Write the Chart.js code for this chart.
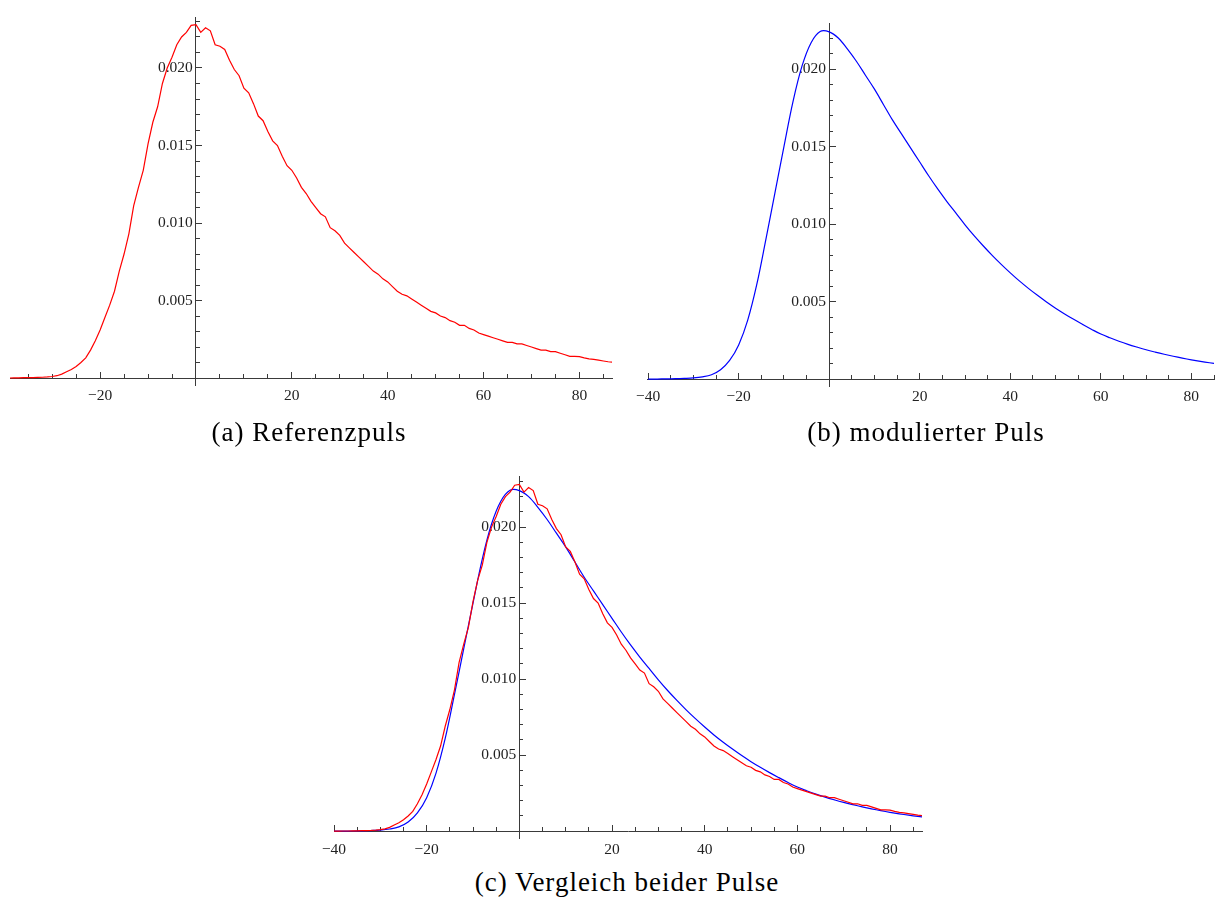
<!DOCTYPE html>
<html lang="de">
<head>
<meta charset="utf-8">
<title>Referenzpuls und modulierter Puls</title>
<script src="https://cdn.jsdelivr.net/npm/chart.js@4.4.1/dist/chart.umd.min.js"></script>
<style>
  body { margin: 0; background: #fff; width: 1215px; height: 897px; position: relative; overflow: hidden; }
  canvas { position: absolute; }
  .caption {
    position: absolute; width: 500px; text-align: center; white-space: nowrap;
    font-family: "Liberation Serif", "Times New Roman", Times, "DejaVu Serif", serif;
    font-size: 27px; line-height: 27px; letter-spacing: 1px; color: #000;
  }
</style>
</head>
<body>
<canvas id="plotA" width="620" height="420" style="left:0;top:0"></canvas>
<canvas id="plotB" width="595" height="420" style="left:620px;top:0"></canvas>
<canvas id="plotC" width="640" height="420" style="left:300px;top:440px"></canvas>
<div class="caption" style="left:59px;top:419px">(a) Referenzpuls</div>
<div class="caption" style="left:676px;top:419px">(b) modulierter Puls</div>
<div class="caption" style="left:377px;top:869px">(c) Vergleich beider Pulse</div>

<script>
// ---------- Messdaten ----------
// Referenzpuls (gemessen), Abtastung alle 1 Zeiteinheit
const zeitRef = [
  -40, -39, -38, -37, -36, -35, -34, -33, -32, -31, -30, -29, -28, -27, -26, -25,
  -24, -23, -22, -21, -20, -19, -18, -17, -16, -15, -14, -13, -12, -11, -10, -9,
  -8, -7, -6, -5, -4, -3, -2, -1, 0, 1, 2, 3, 4, 5, 6, 7,
  8, 9, 10, 11, 12, 13, 14, 15, 16, 17, 18, 19, 20, 21, 22, 23,
  24, 25, 26, 27, 28, 29, 30, 31, 32, 33, 34, 35, 36, 37, 38, 39,
  40, 41, 42, 43, 44, 45, 46, 47, 48, 49, 50, 51, 52, 53, 54, 55,
  56, 57, 58, 59, 60, 61, 62, 63, 64, 65, 66, 67, 68, 69, 70, 71,
  72, 73, 74, 75, 76, 77, 78, 79, 80, 81, 82, 83, 84, 85, 86, 87
];
const referenzpuls = [
  0, 0, 0.00001, 0.00001, 0.00002, 0.00002, 0.00003, 0.00004, 0.00005, 0.00007, 0.0001, 0.00015, 0.00025, 0.0004, 0.00055, 0.00075,
  0.001, 0.0013, 0.0018, 0.0024, 0.0031, 0.0039, 0.0047, 0.0056, 0.0069, 0.0080, 0.0093, 0.0111, 0.0123, 0.0134, 0.0151, 0.0165,
  0.0175, 0.0190, 0.0200, 0.0207, 0.0215, 0.0220, 0.0223, 0.02275, 0.0228, 0.0223, 0.0226, 0.0224, 0.0215, 0.0214, 0.0212, 0.0205,
  0.0199, 0.0195, 0.0187, 0.0184, 0.0177, 0.0169, 0.0166, 0.0159, 0.0153, 0.0150, 0.0143, 0.0137, 0.0134, 0.0129, 0.0123, 0.0119,
  0.0114, 0.0110, 0.0106, 0.0104, 0.0097, 0.0095, 0.0092, 0.0087, 0.0084, 0.0081, 0.0078, 0.0075, 0.0072, 0.0069, 0.0067, 0.0064,
  0.0062, 0.0059, 0.0056, 0.0054, 0.0053, 0.0051, 0.0049, 0.0047, 0.0045, 0.0043, 0.0042, 0.0040, 0.0039, 0.0037, 0.0036, 0.0034,
  0.0034, 0.0032, 0.0031, 0.0029, 0.0028, 0.0027, 0.0026, 0.0025, 0.0024, 0.0023, 0.0023, 0.0022, 0.0022, 0.0021, 0.0020, 0.0019,
  0.0018, 0.0018, 0.0017, 0.0017, 0.0016, 0.0015, 0.0014, 0.0014, 0.00138, 0.0013, 0.00123, 0.0012, 0.00115, 0.0011, 0.00105, 0.00102
];

// modulierter Puls (berechnet), Abtastung alle 2 Zeiteinheiten
const zeitMod = [
  -40, -38, -36, -34, -32, -30, -28, -26, -24, -22, -20, -18, -16, -14, -12, -10,
  -8, -6, -4, -2, 0, 2, 4, 6, 8, 10, 12, 14, 16, 18, 20, 22,
  24, 26, 28, 30, 32, 34, 36, 38, 40, 42, 44, 46, 48, 50, 52, 54,
  56, 58, 60, 62, 64, 66, 68, 70, 72, 74, 76, 78, 80, 82, 84, 86, 88
];
const modPuls = [
  0, 0, 0.00001, 0.00002, 0.00004, 0.00007, 0.00014, 0.00028, 0.0006, 0.0012, 0.0022, 0.0038, 0.0061, 0.0090, 0.0120, 0.0150,
  0.0179, 0.0202, 0.0217, 0.02242, 0.0224, 0.0220, 0.0213, 0.0205, 0.0196, 0.0187, 0.0177, 0.0167, 0.0158, 0.0149, 0.0140, 0.0131,
  0.01225, 0.01145, 0.0107, 0.00995, 0.00925, 0.0086, 0.00798, 0.0074, 0.00685, 0.00633, 0.00585, 0.0054, 0.00497, 0.00457, 0.0042, 0.00385,
  0.00352, 0.0032, 0.0029, 0.00266, 0.00244, 0.00224, 0.00206, 0.00189, 0.00174, 0.0016, 0.00147, 0.00135, 0.00124, 0.00114, 0.00105, 0.00097, 0.0009
];

// Achsenteilung
const xHaupt = [-40, -20, 20, 40, 60, 80];
const xNeben = [-35, -30, -25, -15, -10, -5, 5, 10, 15, 25, 30, 35, 45, 50, 55, 65, 70, 75, 85];
const yHaupt = [0.005, 0.010, 0.015, 0.020];
const yNeben = [0.001, 0.002, 0.003, 0.004, 0.006, 0.007, 0.008, 0.009, 0.011, 0.012, 0.013, 0.014,
                0.016, 0.017, 0.018, 0.019, 0.021, 0.022, 0.023];

// ---------- Darstellung ----------
const achsenFarbe = '#3a3a3a';
const schrift = { family: "'Liberation Serif', 'Times New Roman', serif", size: 15.5 };

function zahlX(v) {
  return v < 0 ? '\u2212' + Math.abs(v) : String(v);
}

function xAchse(min, max, werte, laenge, haupt) {
  return {
    type: 'linear', axis: 'x', min, max,
    position: { y: 0 },
    afterFit: s => { s.height = 0; },
    afterBuildTicks: s => { s.ticks = werte.filter(v => v >= min && v <= max).map(value => ({ value })); },
    border: { display: haupt, color: achsenFarbe, width: 1 },
    grid: { drawOnChartArea: false, drawTicks: true, tickLength: -laenge, tickColor: achsenFarbe, tickWidth: 1 },
    ticks: { display: haupt, autoSkip: false, maxRotation: 0, padding: 16, font: schrift, color: '#222', callback: zahlX }
  };
}

function yAchse(min, max, werte, laenge, haupt) {
  return {
    type: 'linear', axis: 'y', min, max,
    position: { x: 0 },
    afterFit: s => { s.width = 0; },
    afterBuildTicks: s => { s.ticks = werte.filter(v => v >= min && v <= max).map(value => ({ value })); },
    border: { display: haupt, color: achsenFarbe, width: 1 },
    grid: { drawOnChartArea: false, drawTicks: true, tickLength: -laenge, tickColor: achsenFarbe, tickWidth: 1 },
    ticks: { display: haupt, autoSkip: false, padding: 3, font: schrift, color: '#222', callback: v => v.toFixed(3) + '\u2009' }
  };
}

function kurve(zeit, werte, farbe, glatt) {
  return {
    data: zeit.map((x, i) => ({ x, y: werte[i] })),
    borderColor: farbe,
    borderWidth: 1.2,
    pointRadius: 0,
    fill: false,
    tension: glatt ? 0.35 : 0
  };
}

function pulsDiagramm(id, xMin, xMax, yMax, padding, datasets) {
  const yMin = -0.00045;  // y-Achse ragt etwas unter die Zeitachse
  return new Chart(document.getElementById(id), {
    type: 'line',
    data: { datasets },
    options: {
      responsive: false,
      animation: false,
      layout: { padding, autoPadding: false },
      plugins: { legend: { display: false }, tooltip: { enabled: false }, title: { display: false } },
      scales: {
        x: xAchse(xMin, xMax, xHaupt, 7, true),
        xMinor: xAchse(xMin, xMax, xNeben, 4, false),
        y: yAchse(yMin, yMax, yHaupt, 7, true),
        yMinor: yAchse(yMin, yMax, yNeben, 4, false)
      }
    }
  });
}

const rot = '#ff0000';
const blau = '#0000ff';

pulsDiagramm('plotA', -38.8, 86.8, 0.02329, { left: 10, right: 8, top: 17, bottom: 35 },
  [kurve(zeitRef, referenzpuls, rot, false)]);

pulsDiagramm('plotB', -40.1, 85.0, 0.02297, { left: 16, right: 1, top: 23, bottom: 34 },
  [kurve(zeitMod, modPuls, blau, true)]);

pulsDiagramm('plotC', -40.0, 86.9, 0.02336, { left: 34, right: 18, top: 36, bottom: 22 },
  [kurve(zeitRef, referenzpuls, rot, false), kurve(zeitMod, modPuls, blau, true)]);
</script>
</body>
</html>
